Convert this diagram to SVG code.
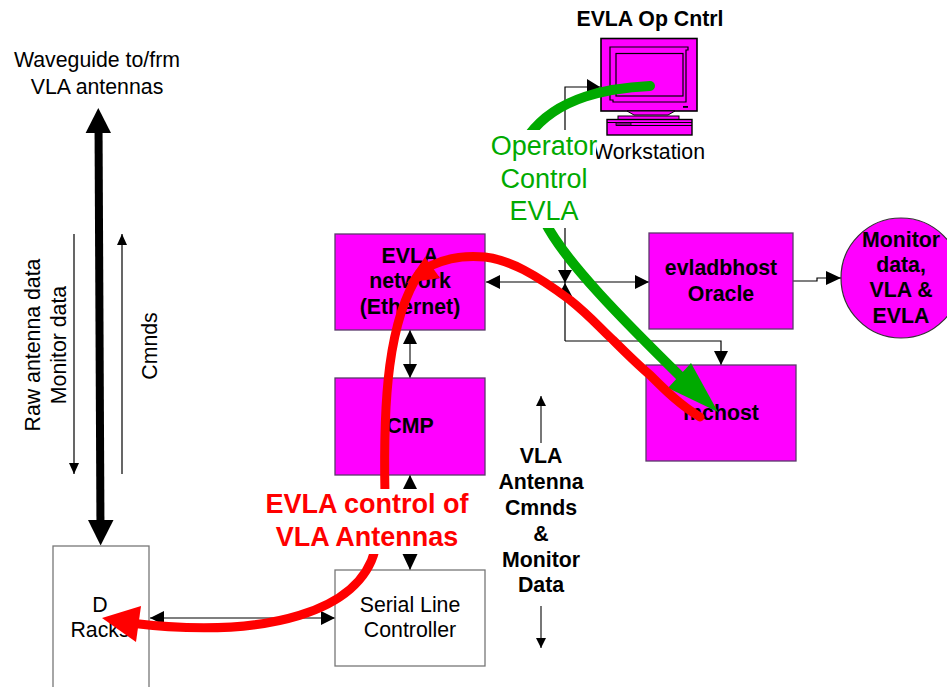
<svg xmlns="http://www.w3.org/2000/svg" width="947" height="687" viewBox="0 0 947 687">
<style>
text{font-family:"Liberation Sans",Arial,sans-serif;font-size:21.3px;fill:#000;text-anchor:middle}
.b{font-weight:bold}
.box{fill:#f0f;stroke:#5a3a6a;stroke-width:1.3}
.wbox{fill:#fff;stroke:#777;stroke-width:1.3}
.ln{fill:none;stroke:#000;stroke-width:1.2}
.gl{fill:none;stroke:#555;stroke-width:1.6}
.m{stroke:#000;stroke-width:1.2;fill:none}
.red{font-weight:bold;font-size:27px;fill:#f00}
.grn{font-size:27px;fill:#0a0}
</style>
<rect width="947" height="687" fill="#fff"/>
<g id="connectors-back">
<path class="ln" d="M600 87H565V341"/>
<path class="ln" d="M486 282H649"/>
<path class="ln" d="M565 341H721V365"/>
<path class="gl" d="M410 330V378"/>
<path class="gl" d="M410 475V570"/>
<path class="gl" d="M150 618H335"/>
<path class="ln" d="M793 281H817V278H841"/>
<path class="gl" d="M541 396V443"/>
<path class="gl" d="M541 606V648"/>
<path class="ln" d="M74 234V474"/>
<path class="ln" d="M122 234V474"/>
<path d="M98.500 120L100.500 535" stroke="#000" stroke-width="8" fill="none"/>
<g fill="#000">
<path d="M600 87L587 79V94Z"/>
<path d="M486 282L500 275V289Z"/>
<path d="M649 282L635 275V289Z"/>
<path d="M565 283L558 270H572Z"/>
<path d="M565 283L558 296H572Z"/>
<path d="M721 365L714 351H728Z"/>
<path d="M410 330L403 344H417Z"/>
<path d="M410 378L403 364H417Z"/>
<path d="M410 475L403 489H417Z"/>
<path d="M410 570L402.500 554H417.500Z"/>
<path d="M150 618L164 611V625Z"/>
<path d="M335 618L321 611V625Z"/>
<path d="M841 278L826 271V285Z"/>
<path d="M541 396L536 406H546Z"/>
<path d="M541 648L536 638H546Z"/>
<path d="M74 474L69 463H79Z"/>
<path d="M122 234L117 245H127Z"/>
<path d="M98.300 108L85.600 133H111Z"/>
<path d="M100.600 545.500L88 520H113.500Z"/>
</g>
</g>
<g id="node-evla-network"><rect class="box" x="335" y="234" width="150" height="96"/><text class="b" x="410" y="263">EVLA</text><text class="b" x="410" y="288">network</text><text class="b" x="410" y="314">(Ethernet)</text></g>
<g id="node-cmp"><rect class="box" x="335" y="378" width="150" height="97"/><text class="b" x="410" y="433">CMP</text></g>
<g id="node-evladbhost"><rect class="box" x="649" y="233" width="144" height="96"/><text class="b" x="721" y="275">evladbhost</text><text class="b" x="721" y="301">Oracle</text></g>
<g id="node-mchost"><rect class="box" x="646" y="365" width="150" height="96"/><text class="b" x="721" y="420">mchost</text></g>
<g id="node-serial"><rect class="wbox" x="335" y="570" width="150" height="96"/><text x="410" y="612">Serial Line</text><text x="410" y="637">Controller</text></g>
<g id="node-d-racks"><rect class="wbox" x="53" y="546" width="96" height="145"/><text x="100" y="612">D</text><text x="100" y="637">Racks</text></g>
<g id="node-monitor-data"><circle cx="901" cy="278" r="60" fill="#f0f" stroke="#333" stroke-width="1.2"/><text class="b" x="901" y="247">Monitor</text><text class="b" x="901" y="272">data,</text><text class="b" x="901" y="297">VLA &amp;</text><text class="b" x="901" y="323">EVLA</text></g>
<g id="node-workstation">
<rect x="601" y="38.500" width="96" height="72.500" fill="#f0f" stroke="#000" stroke-width="1.6"/>
<path class="m" d="M610 47H688V50H686V102H613V100H610Z"/>
<rect class="m" x="616" y="53.500" width="67" height="42.500"/>
<rect x="683" y="106" width="5" height="1.800" fill="#000"/>
<path d="M627 111L634 115H668L675 111Z" fill="#f0f" stroke="#000"/>
<rect x="618" y="116" width="61" height="3.500" fill="#f0f" stroke="#000"/>
<rect x="607" y="119.500" width="85" height="15.500" fill="#f0f" stroke="#000" stroke-width="1.400"/>
<path class="m" d="M607 122.500H692M616 125.500H692"/>
<rect x="616" y="122.500" width="15" height="3" fill="#808" stroke="#000" stroke-width=".8"/>
<text x="649" y="159">Workstation</text>
</g>
<g id="label-op-cntrl"><text class="b" x="650" y="26">EVLA Op Cntrl</text></g>
<g id="label-waveguide"><text x="97" y="67">Waveguide to/frm</text><text x="97" y="94">VLA antennas</text></g>
<g id="label-side">
<text transform="translate(40 345) rotate(-90)">Raw antenna data</text>
<text transform="translate(66 345) rotate(-90)">Monitor data</text>
<text transform="translate(157 346) rotate(-90)">Cmnds</text>
</g>
<g id="label-vla-cmnds"><text class="b" x="541" y="463">VLA</text><text class="b" x="541" y="489">Antenna</text><text class="b" x="541" y="515">Cmnds</text><text class="b" x="541" y="541">&amp;</text><text class="b" x="541" y="567">Monitor</text><text class="b" x="541" y="592">Data</text></g>
<g id="connectors-flow" fill="none" stroke-width="9">
<path stroke="#0a0" stroke-width="10" stroke-linecap="round" d="M650 86C610 88 558 96 529 135"/>
<path stroke="#0a0" stroke-width="10" d="M545 222C565 262 625 322 682 378"/>
<path fill="#0a0" d="M718 412L691 363L668 388Z"/>
<path stroke="#f00" d="M385 495C383 400 388 320 420 272"/>
<path fill="#f00" d="M425 257L440 278L407 283Z"/>
<path stroke="#f00" stroke-linecap="round" d="M430 266Q455 254 485 257C510 260 535 274 570 300C590 316 600 328 613 340C625 352 637 364 650 375C665 390 680 405 700 417"/>
<path stroke="#f00" d="M375 550C360 610 270 640 130 623"/>
<path fill="#f00" d="M102 618L141 606L136 642Z"/>
</g>
<g id="label-operator">
<rect x="491" y="130" width="105" height="98" fill="#fff"/>
<text class="grn" x="544" y="155">Operator</text><text class="grn" x="544" y="188">Control</text><text class="grn" x="544" y="220">EVLA</text>
</g>
<g id="label-evla-control">
<rect x="265" y="489" width="205" height="65" fill="#fff"/>
<text class="red" x="367" y="513">EVLA control of</text><text class="red" x="367" y="546">VLA Antennas</text>
</g>
</svg>
